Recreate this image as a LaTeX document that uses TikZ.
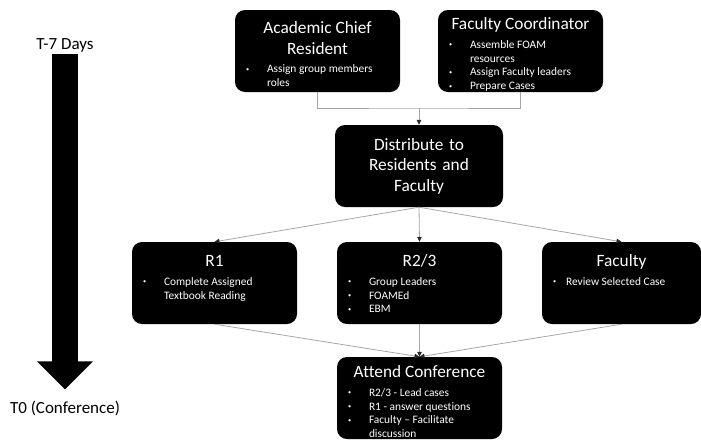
\documentclass[tikz,border=0pt]{standalone}
\usepackage{fontspec}
\usepackage{graphicx}
\setmainfont{Carlito}[Ligatures=NoCommon]
\usetikzlibrary{arrows.meta,positioning,calc}

\newcommand{\titlefont}{\fontsize{17.3}{20.5}\selectfont}
\newcommand{\listfont}{\fontsize{11.4}{13.8}\selectfont}
\newlength{\bulletgap}
\setlength{\bulletgap}{21pt}
\newcommand{\itm}[1]{\par\hangindent=\bulletgap\hangafter=1\noindent
  \makebox[\bulletgap][l]{\raisebox{0.3ex}{\scalebox{0.55}{\textbullet}}}#1}
% width, height, first baseline, title, items
\newcommand{\cardbody}[5]{\parbox[t][#2][t]{#1}{\centering\titlefont
  \rule{0pt}{#3}#4\par\vspace{5pt}\raggedright\leftskip=11pt\listfont #5}}

\tikzset{
  card/.style={fill=black, rounded corners=10pt, inner sep=0pt, text=white},
  link/.style={draw=gray!70, line width=0.8pt},
  arrowlink/.style={link, -{Triangle[length=5pt,width=4.5pt,gray!30!black]}},
  timeline/.style={line width=26pt, -{Triangle[length=28pt,width=54pt]}},
}

\begin{document}
\begin{tikzpicture}[x=1pt,y=-1pt]
\useasboundingbox (0,0) rectangle (701,440);

\node[inner sep=0pt, font=\fontsize{17}{20}\selectfont] (t7) at (65,45) {T-7 Days};
\node[inner sep=0pt, font=\fontsize{17}{20}\selectfont] (t0) at (65,408) {T0 (Conference)};
\draw[timeline, shorten <=2pt, shorten >=11pt] (t7) -- (t0);

\node[card] (acr) at (317.5,51) {\cardbody{165pt}{82pt}{23.5pt}{Academic Chief\\Resident}
  {\itm{Assign group members\newline roles}}};
\node[card] (fc) at (520.5,51) {\cardbody{165pt}{82pt}{19.5pt}{Faculty Coordinator}
  {\itm{Assemble FOAM\newline resources}\itm{Assign Faculty leaders}\itm{Prepare Cases}}};

\node[card, text width=168pt, minimum height=82pt, align=center, font=\titlefont]
  (dist) at (419,166) {Distribute to\\Residents and\\Faculty};

\node[card] (r1) at (214.5,283) {\cardbody{165pt}{82pt}{24.5pt}{R1}
  {\itm{Complete Assigned\newline Textbook Reading}}};
\node[card] (r23) at (419.5,283) {\cardbody{165pt}{82pt}{24.5pt}{R2/3}
  {\itm{Group Leaders}\itm{FOAMEd}\itm{EBM}}};
\node[card] (fac) at (621.5,283) {\setlength{\bulletgap}{13pt}\cardbody{159pt}{82pt}{24.5pt}{Faculty}
  {\itm{Review Selected Case}}};

\node[card] (att) at (419.5,398) {\cardbody{165pt}{82pt}{20.5pt}{Attend Conference}
  {\itm{R2/3 - Lead cases}\itm{R1 - answer questions}\itm{Faculty -- Facilitate\newline discussion}}};

\coordinate (join) at (419,108);
\draw[link] (acr.south) |- (join) -| (fc.south);
\draw[arrowlink] (join) -- (dist.north);

\foreach \n in {r1,r23,fac}{
  \draw[arrowlink] (dist.south) -- (\n.north);
  \draw[arrowlink] (\n.south) -- (att.north);
}

\end{tikzpicture}
\end{document}
